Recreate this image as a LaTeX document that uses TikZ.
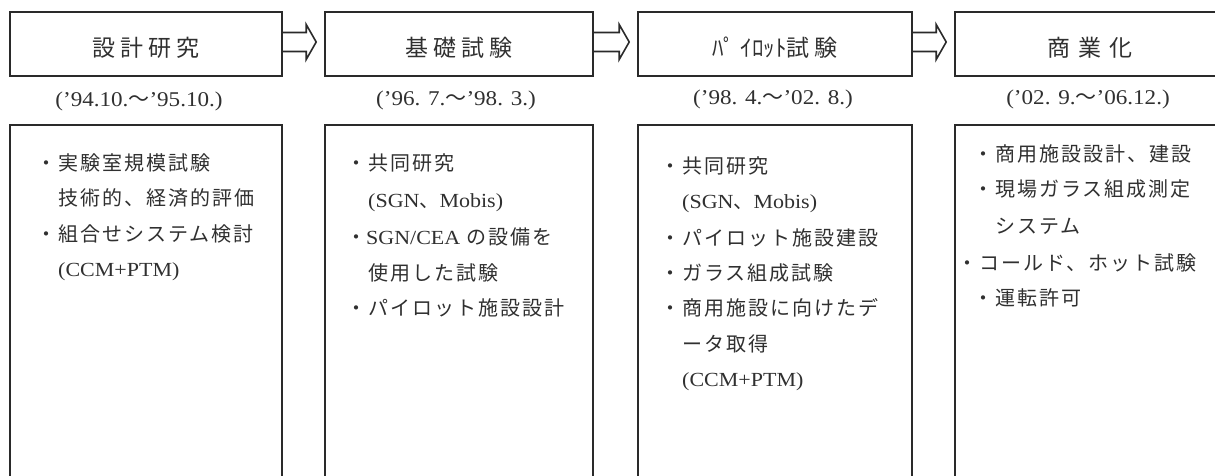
\documentclass[tikz,border=0pt]{standalone}
\usepackage{fontspec}
\usetikzlibrary{calc}
\setmainfont{Liberation Serif}[FakeStretch=1.1]
\newfontfamily\jp[LetterSpace=10]{Noto Sans CJK JP}
\newfontfamily\jpt[LetterSpace=22]{Noto Sans CJK JP}
\newfontfamily\jpn{Noto Sans CJK JP}
\definecolor{ink}{HTML}{2A2A2A}
\definecolor{txt}{HTML}{303030}
\tikzset{
  tbox/.style={draw=ink, line width=1.6pt, inner sep=0pt, text=txt, text height=25pt, text depth=0pt, font=\jpt\fontsize{23}{26}\selectfont},
  lbox/.style={draw=ink, line width=1.6pt, inner sep=0pt},
  datelabel/.style={inner sep=0pt, text=txt, font=\fontsize{21}{24}\selectfont},
  line/.style={anchor=base west, inner sep=0pt, text=txt, font=\jp\fontsize{20}{24}\selectfont},
  harrow/.style={draw=ink, line width=1.6pt, line join=miter},
}
\begin{document}
\begin{tikzpicture}[x=1pt, y=-1pt]
\useasboundingbox (0,0) rectangle (1215,476);
% top boxes
\node[tbox, minimum width=272pt, minimum height=64pt] (t1) at (146,44) {設計研究};
\node[tbox, minimum width=268pt, minimum height=64pt] (t2) at (459,44) {基礎試験};
\node[tbox, minimum width=274pt, minimum height=64pt] (t3) at (775,44) {{\jpn ﾊﾟ ｲﾛｯﾄ}試験};
\node[tbox, minimum width=270pt, minimum height=64pt] (t4) at (1090,44) {商\hspace{8pt}業\hspace{8pt}化};
% dates
\node[datelabel] (d1) at (139,101) {(’94.10.{\jpn 〜}’95.10.)};
\node[datelabel] (d2) at (456,100) {(’96. 7.{\jpn 〜}’98. 3.)};
\node[datelabel] (d3) at (773,99) {(’98. 4.{\jpn 〜}’02. 8.)};
\node[datelabel] (d4) at (1088,99) {(’02. 9.{\jpn 〜}’06.12.)};
% lower boxes
\node[lbox, minimum width=272pt, minimum height=370pt] (b1) at (146,310) {};
\node[lbox, minimum width=268pt, minimum height=370pt] (b2) at (459,310) {};
\node[lbox, minimum width=274pt, minimum height=370pt] (b3) at (775,310) {};
\node[lbox, minimum width=270pt, minimum height=370pt] (b4) at (1090,310) {};
% arrows
\foreach \a/\b in {t1/t2, t2/t3, t3/t4}{
  \coordinate (s) at (\a.east);
  \coordinate (e) at ($(\b.west)+(-8,-2)$);
  \coordinate (s) at ($(s)+(0,-2)$);
  \draw[harrow] ($(s)+(0,-9.5)$) -- ($(e)+(-10,-9.5)$) -- ($(e)+(-10,-17.5)$) -- (e)
     -- ($(e)+(-10,17.5)$) -- ($(e)+(-10,9.5)$) -- ($(s)+(0,9.5)$);
}
% box 1 text
\node[line] (l11) at (36,171) {・実験室規模試験};
\node[line] (l12) at (58,205) {技術的、経済的評価};
\node[line] (l13) at (36,241) {・組合せシステム検討};
\node[line] (l14) at (58,276) {\rmfamily (CCM+PTM)};
% box 2 text
\node[line] (l21) at (346,171) {・共同研究};
\node[line] (l22) at (368,207) {\rmfamily (SGN{\jpn 、}Mobis)};
\node[line] (l23) at (346,244) {・{\rmfamily SGN/CEA} の設備を};
\node[line] (l24) at (368,280) {使用した試験};
\node[line] (l25) at (346,315) {・パイロット施設設計};
% box 3 text
\node[line] (l31) at (660,173) {・共同研究};
\node[line] (l32) at (682,208) {\rmfamily (SGN{\jpn 、}Mobis)};
\node[line] (l33) at (660,245) {・パイロット施設建設};
\node[line] (l34) at (660,280) {・ガラス組成試験};
\node[line] (l35) at (660,315) {・商用施設に向けたデ};
\node[line] (l36) at (682,351) {ータ取得};
\node[line] (l37) at (682,386) {\rmfamily (CCM+PTM)};
% box 4 text
\node[line] (l41) at (973,161) {・商用施設設計、建設};
\node[line] (l42) at (973,196) {・現場ガラス組成測定};
\node[line] (l43) at (995,233) {システム};
\node[line] (l44) at (957,270) {・コールド、ホット試験};
\node[line] (l45) at (973,305) {・運転許可};
\end{tikzpicture}
\end{document}
